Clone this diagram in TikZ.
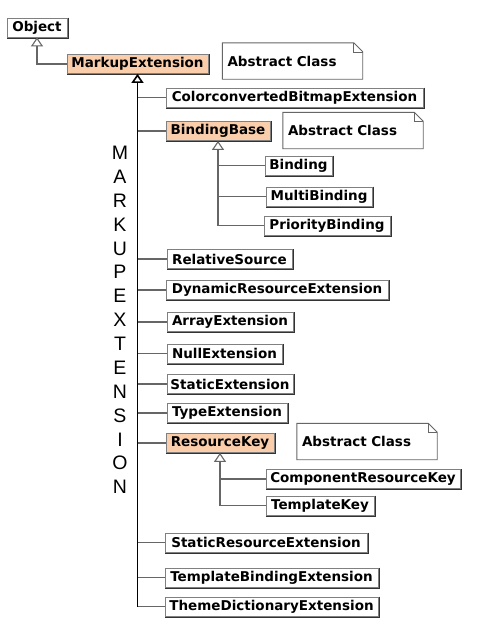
\documentclass[tikz,border=0pt]{standalone}
\usepackage{fontspec}
\setmainfont{DejaVu Sans}
\newfontfamily\letterfont{Liberation Sans}
\usetikzlibrary{arrows.meta}
\definecolor{peach}{RGB}{250,206,170}
\tikzset{
  cls/.style={draw=black!50, line width=0.8pt, fill=white, minimum height=19pt, inner sep=0pt,
    font=\fontsize{13.5}{15}\selectfont\bfseries},
  abs/.style={cls, fill=peach},
  shade line/.style={draw=black!80, line width=1.3pt},
  notebox/.style={minimum width=140pt, minimum height=36pt, inner sep=0pt, text width=130pt,
    align=left, font=\fontsize{13.5}{15}\selectfont\bfseries},
  notedraw/.style={draw=black!60, line width=0.9pt},
  conn/.style={draw=black!60, line width=1.1pt},
  trunk/.style={draw=black, line width=1.6pt},
  inh/.style={-{Triangle[open, width=12pt, length=9pt, fill=white]}},
}
\begin{document}
\begin{tikzpicture}[x=1pt,y=-1pt]
\path[fill=white] (0,0) rectangle (480,629);
\useasboundingbox (0,0) rectangle (480,629);

% classes
\node[cls, minimum width=60pt] (OB) at (37,27.5) {Object};
\node[abs, minimum width=141pt] (ME) at (137.5,64) {MarkupExtension};
\node[cls, minimum width=257pt] (CB) at (294.5,97.5) {ColorconvertedBitmapExtension};
\node[abs, minimum width=104pt] (BB) at (218,131) {BindingBase};
\node[cls, minimum width=67pt] (BI) at (298.5,165.5) {Binding};
\node[cls, minimum width=106pt] (MB) at (319,196.5) {MultiBinding};
\node[cls, minimum width=126pt] (PB) at (327,225.5) {PriorityBinding};
\node[cls, minimum width=125pt] (RS) at (229.5,259) {RelativeSource};
\node[cls, minimum width=222pt] (DR) at (277,290) {DynamicResourceExtension};
\node[cls, minimum width=126pt] (AE) at (230,322) {ArrayExtension};
\node[cls, minimum width=115pt] (NE) at (224.5,353.5) {NullExtension};
\node[cls, minimum width=126pt] (SE) at (230,384) {StaticExtension};
\node[cls, minimum width=120pt] (TE) at (227,413) {TypeExtension};
\node[abs, minimum width=108pt] (RK) at (220,443) {ResourceKey};
\node[cls, minimum width=194pt] (CR) at (363,479) {ComponentResourceKey};
\node[cls, minimum width=108pt] (TK) at (320,505.5) {TemplateKey};
\node[cls, minimum width=202pt] (SR) at (266,542.5) {StaticResourceExtension};
\node[cls, minimum width=213pt] (TB) at (271.5,577.5) {TemplateBindingExtension};
\node[cls, minimum width=213pt] (TD) at (271.5,606.5) {ThemeDictionaryExtension};

% shadow edges (right and bottom)
\foreach \c in {OB,ME,CB,BB,BI,MB,PB,RS,DR,AE,NE,SE,TE,RK,CR,TK,SR,TB,TD}
  \draw[shade line] ([shift={(0.9,0)}]\c.north east) -- ([shift={(0.9,0.9)}]\c.south east)
     -- ([shift={(0,0.9)}]\c.south west);

% notes
\foreach \n/\x/\y in {N1/292.5/61, N2/353/130.5, N3/367/441.5}{
  \node[notebox] (\n) at (\x,\y) {Abstract Class};
  \draw[notedraw] (\n.north west) -- ([xshift=-9pt]\n.north east) -- ([yshift=-9pt]\n.north east)
     -- (\n.south east) -- (\n.south west) -- cycle;
  \draw[notedraw, line width=0.6pt] ([xshift=-9pt]\n.north east) -- ([xshift=-9pt,yshift=-9pt]\n.north east)
     -- ([yshift=-9pt]\n.north east);
}

% vertical word
\node[font=\letterfont\fontsize{19.5}{23.86}\selectfont, align=center, inner sep=0pt] (WORD) at (120,320)
  {M\\A\\R\\K\\U\\P\\E\\X\\T\\E\\N\\S\\I\\O\\N};

% connectors
\draw[conn, inh] (ME.west) -| (OB.south);
\foreach \c in {CB,BB,RS,DR,AE,NE,SE,TE,RK,SR,TB,TD}
  \draw[conn] (\c.west) -- (\c.west -| ME.south);
\draw[trunk, inh] (ME.south |- TD.west) -- (ME.south);

\foreach \c in {BI,MB,PB}
  \draw[conn] (\c.west) -- (\c.west -| BB.south);
\draw[conn, inh] (BB.south |- PB.west) -- (BB.south);

\foreach \c in {CR,TK}
  \draw[conn] (\c.west) -- (\c.west -| RK.south);
\draw[conn, inh] (RK.south |- TK.west) -- (RK.south);
\end{tikzpicture}
\end{document}
